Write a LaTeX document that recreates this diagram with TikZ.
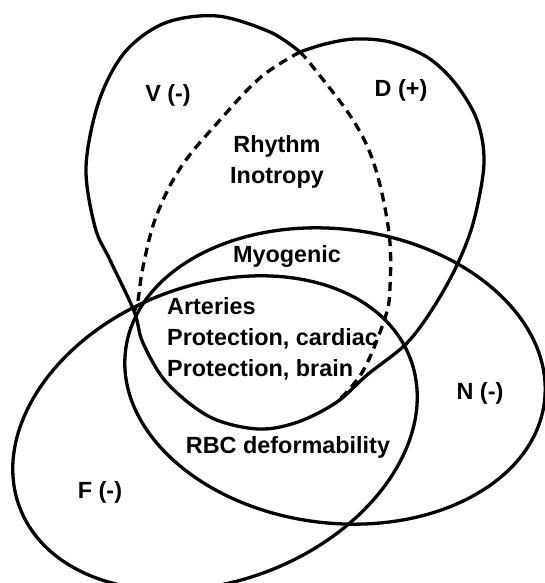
\documentclass[tikz,border=0pt]{standalone}
\usepackage{fontspec}
\setmainfont{Liberation Sans}
\usepackage{tikz}

\begin{document}
\begin{tikzpicture} [x=1pt, y=1pt]
\tikzstyle{every node}=[font=\bfseries\fontsize{23.4}{31}\selectfont, inner sep=0pt];
\tikzstyle{border}=[line width=3.3pt, line join=round];
\tikzstyle{split}=[border, dash pattern=on 9pt off 6pt];
\useasboundingbox (0,0) rectangle (545,583);
\coordinate (cusp) at (300,531);
\coordinate (tipL) at (134,272);
\coordinate (tipB) at (337,181);
% N and F
\draw[border] (335,207) ellipse [x radius=211, y radius=147, rotate=-7];
\draw[border] (215,150) ellipse [x radius=209, y radius=148, rotate=21];
% V and D, one outline
\draw[border] plot[smooth, tension=0.55] coordinates {(cusp) (270,551) (217,567) (165,560)
  (125,531) (99,482) (86,416) (95,356) (110,323) (tipL) (143,240) (167,200) (210,166)
  (258,154) (298,161) (tipB) (367,208) (407,240) (435,278) (458,320) (474,363) (484,420)
  (477,463) (455,500) (427,526) (390,541) (355,544) (325,539) (cusp)};
\draw[split] plot[smooth, tension=0.6] coordinates {(cusp) (261,506) (220,463) (181,416)
  (156,366) (143,316) (138,283) (tipL)};
\draw[split] plot[smooth, tension=0.6] coordinates {(cusp) (313,516) (353,463) (375,416)
  (389,350) (390,296) (385,265) (363,212) (tipB)};
% labels
\node (vlab) at (168,488) {V (-)};
\node (dlab) at (401,493) {D (+)};
\node[align=center] (heart) at (277,421) {Rhythm\\Inotropy};
\node (myo) at (287,326) {Myogenic};
\node[align=left, anchor=west] (core) at (167,244) {Arteries\\Protection, cardiac\\Protection, brain};
\node (rbc) at (288,136) {RBC deformability};
\node (flab) at (100,91) {F (-)};
\node (nlab) at (480,190) {N (-)};
\end{tikzpicture}
\end{document}
